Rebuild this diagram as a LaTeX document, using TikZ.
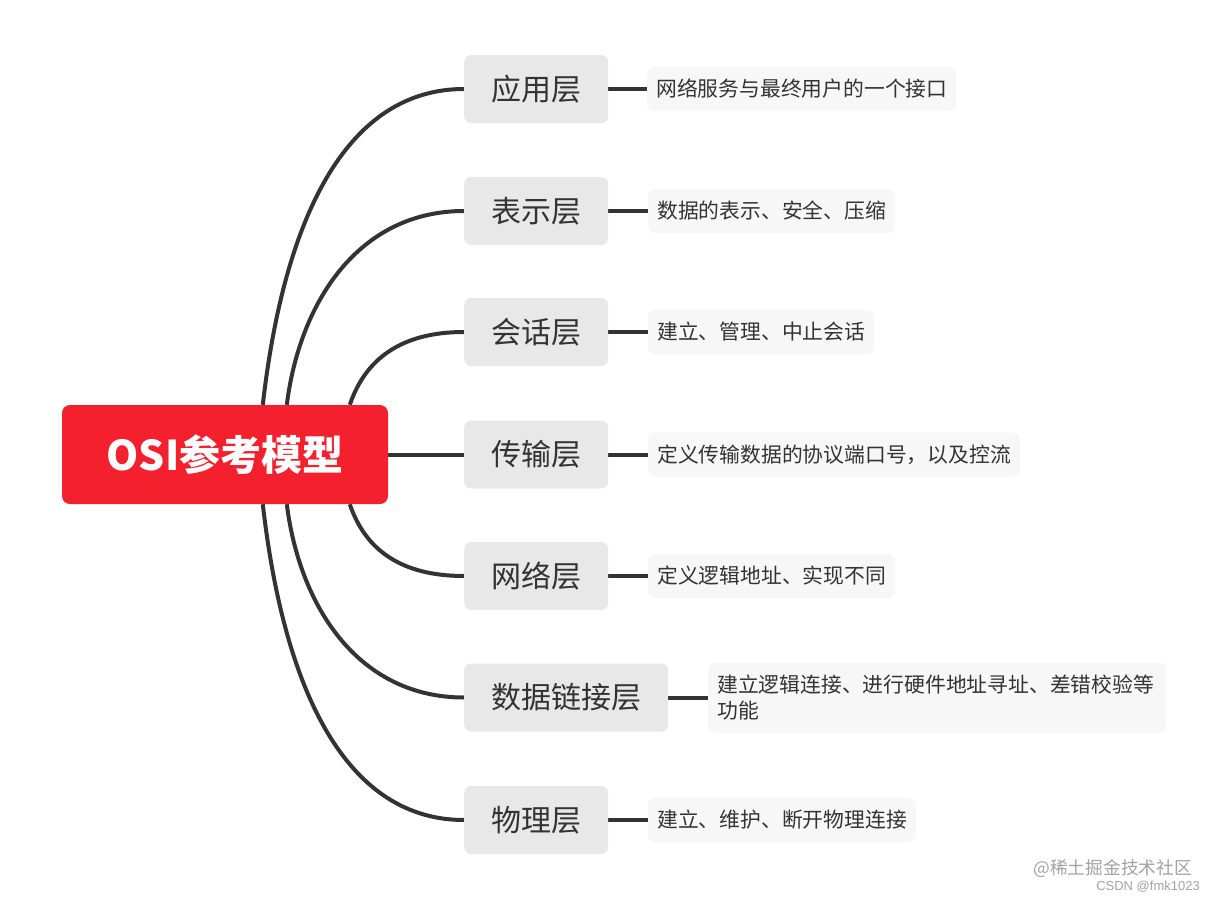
\documentclass[tikz,border=0pt]{standalone}
\usepackage{fontspec}
\setmainfont{Noto Sans CJK SC}
\newfontfamily\wmfont{Liberation Sans}
\usetikzlibrary{backgrounds,calc}
\definecolor{rootred}{HTML}{F4202E}
\definecolor{layergray}{HTML}{E8E8E8}
\definecolor{descgray}{HTML}{F7F7F7}
\definecolor{ink}{HTML}{333333}
\definecolor{wmgray}{HTML}{A3A3A3}
\begin{document}
\begin{tikzpicture}[x=1pt,y=-1pt,
  rootbox/.style={fill=rootred, rounded corners=8pt, minimum width=326pt, minimum height=99pt,
    text=white, font=\fontsize{41}{48}\selectfont\bfseries, inner sep=0pt},
  layerbox/.style={fill=layergray, rounded corners=7pt, minimum height=68pt, inner xsep=27pt,
    inner ysep=0pt, anchor=west, text=ink, font=\fontsize{30}{36}\selectfont},
  descbox/.style={fill=descgray, rounded corners=7pt, minimum height=44pt, inner xsep=9pt,
    inner ysep=0pt, anchor=west, text=ink, font=\fontsize{20.8}{26}\selectfont, align=left},
  link/.style={draw=ink, line width=4pt},
]
\useasboundingbox (0,0) rectangle (1216,902);

\node[rootbox] (root) at (225,454.5) {OSI参考模型};

\node[layerbox] (l1) at (464,89) {应用层};
\node[layerbox] (l2) at (464,211) {表示层};
\node[layerbox] (l3) at (464,332) {会话层};
\node[layerbox] (l4) at (464,454.5) {传输层};
\node[layerbox] (l5) at (464,576) {网络层};
\node[layerbox] (l6) at (464,697.5) {数据链接层};
\node[layerbox] (l7) at (464,820) {物理层};

\node[descbox] (d1) at (647,89) {网络服务与最终用户的一个接口};
\node[descbox] (d2) at (648,211) {数据的表示、安全、压缩};
\node[descbox] (d3) at (648,332) {建立、管理、中止会话};
\node[descbox] (d4) at (648,454.5) {定义传输数据的协议端口号，以及控流};
\node[descbox] (d5) at (648,576) {定义逻辑地址、实现不同};
\node[descbox, text width=440pt, minimum height=70pt] (d6) at (708,697.5) {建立逻辑连接、进行硬件地址寻址、差错校验等\\功能};
\node[descbox] (d7) at (648,820) {建立、维护、断开物理连接};

\node[anchor=east, text=wmgray, font=\fontsize{17.7}{20}\selectfont, inner sep=0pt] (wm1) at (1192,869) {@稀土掘金技术社区};
\node[anchor=east, text=wmgray, font=\wmfont\fontsize{13}{15}\selectfont, inner sep=0pt] (wm2) at (1200,887) {CSDN @fmk1023};

\coordinate (s1) at ($(root.north west)+(201,0)$);
\coordinate (s2) at ($(root.north west)+(225,0)$);
\coordinate (s3) at ($(root.north west)+(288,0)$);
\coordinate (s5) at ($(root.south west)+(288,0)$);
\coordinate (s6) at ($(root.south west)+(225,0)$);
\coordinate (s7) at ($(root.south west)+(201,0)$);

\begin{scope}[on background layer]
  \fill[white] (0,0) rectangle (1216,902);
  \draw[link] (s1) .. controls (285,210) and (350,89) .. (l1.west);
  \draw[link] (s2) .. controls (300,300) and (360,211) .. (l2.west);
  \draw[link] (s3) .. controls (365,360) and (400,332) .. (l3.west);
  \draw[link] (root.east) -- (l4.west);
  \draw[link] (s5) .. controls (365,549) and (400,576) .. (l5.west);
  \draw[link] (s6) .. controls (300,609) and (360,697.5) .. (l6.west);
  \draw[link] (s7) .. controls (285,699) and (350,820) .. (l7.west);
  \foreach \i in {1,...,7} { \draw[link] (l\i.east) -- (d\i.west); }
\end{scope}
\end{tikzpicture}
\end{document}
